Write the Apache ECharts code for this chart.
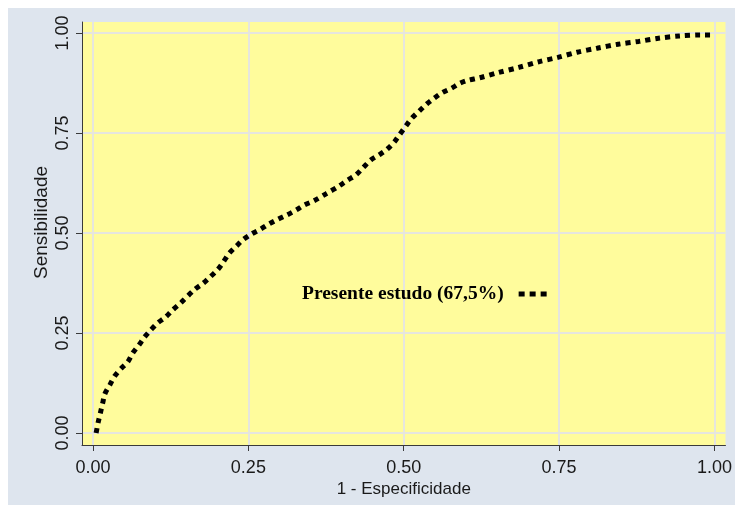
<!DOCTYPE html>
<html>
<head>
<meta charset="utf-8">
<script src="https://cdn.jsdelivr.net/npm/echarts@6/dist/echarts.min.js"></script>
<style>
html,body{margin:0;padding:0;background:#ffffff;width:735px;height:508px;overflow:hidden;}
#c{position:absolute;left:8px;top:8px;width:727px;height:497px;background:#dee5ee;}
</style>
</head>
<body>
<div id="c"></div>
<script>
// Data
const seriesName = 'Presente estudo (67,5%)';
const fpr = [0.005,0.0085,0.012,0.0156,0.019,0.027,0.035,0.046,0.056,0.064,0.074,0.083,0.093,0.104,0.117,0.128,0.141,0.1637,0.177,0.189,0.201,0.21,0.219,0.231,0.241,0.255,0.269,0.283,0.297,0.312,0.327,0.34,0.355,0.375,0.396,0.41,0.423,0.435,0.447,0.46,0.473,0.485,0.494,0.5035,0.513,0.525,0.537,0.549,0.562,0.577,0.59,0.602,0.622,0.652,0.685,0.717,0.748,0.779,0.811,0.845,0.878,0.91,0.943,0.978,0.995];
const sens = [0.0,0.028,0.051,0.075,0.0975,0.12,0.1425,0.1625,0.178,0.2,0.22,0.24,0.2575,0.275,0.29,0.3075,0.325,0.359,0.374,0.391,0.409,0.428,0.449,0.4675,0.4825,0.4975,0.509,0.5225,0.534,0.545,0.5575,0.57,0.58,0.598,0.6175,0.6325,0.645,0.664,0.6825,0.695,0.709,0.728,0.7475,0.7675,0.787,0.805,0.8225,0.837,0.851,0.862,0.874,0.881,0.888,0.901,0.914,0.928,0.939,0.952,0.962,0.972,0.979,0.987,0.9925,0.995,0.995];
const tickVals = [0, 0.25, 0.5, 0.75, 1];
const tickLabels = ['0.00', '0.25', '0.50', '0.75', '1.00'];
const xTitle = '1 - Especificidade';
const yTitle = 'Sensibilidade';

const points = fpr.map((x, i) => [x, sens[i]]);
const fmt = v => { const i = tickVals.findIndex(t => Math.abs(t - v) < 1e-9); return i >= 0 ? tickLabels[i] : ''; };
const axisLineStyle = { color: '#3a3a3a', width: 1 };
const gridLineStyle = { color: '#e6e6de', width: 2 };
const labelFont = { fontFamily: 'Liberation Sans, Arial, sans-serif', fontSize: 18, color: '#1a1a1a' };
const nameFont = { fontFamily: 'Liberation Sans, Arial, sans-serif', fontSize: 17, color: '#1a1a1a' };

const chart = echarts.init(document.getElementById('c'), null, { renderer: 'canvas' });
chart.setOption({
  animation: false,
  backgroundColor: 'transparent',
  grid: { left: 74, top: 14, right: 8, bottom: 60, show: true, backgroundColor: '#fffc9c', borderWidth: 0, containLabel: false },
  legend: {
    show: true, left: 294, top: 276, align: 'right', orient: 'horizontal',
    itemWidth: 28, itemHeight: 5, padding: 0,
    textStyle: { fontFamily: 'Liberation Serif, Times New Roman, serif', fontWeight: 'bold', fontSize: 19.5, color: '#000', padding: [0, 10, 0, 0] },
    data: [{ name: seriesName, icon: 'path://M0,0h6v5h-6z M11,0h6v5h-6z M22,0h6v5h-6z' }]
  },
  xAxis: {
    type: 'value', min: -0.0177, max: 1.0177,
    name: xTitle, nameLocation: 'middle', nameGap: 36, nameMoveOverlap: false,
    nameTextStyle: nameFont,
    axisLine: { show: true, onZero: false, lineStyle: axisLineStyle },
    axisTick: { show: true, length: 6, customValues: tickVals, lineStyle: axisLineStyle },
    axisLabel: { show: true, customValues: tickVals, margin: 14, formatter: fmt, ...labelFont },
    splitLine: { show: true, lineStyle: gridLineStyle }
  },
  yAxis: {
    type: 'value', min: -0.03, max: 1.0275,
    name: yTitle, nameLocation: 'middle', nameGap: 31, nameRotate: 90, nameMoveOverlap: false,
    nameTextStyle: { ...nameFont, fontSize: 19, padding: [0, 0, 0, 22] },
    axisLine: { show: true, onZero: false, lineStyle: axisLineStyle },
    axisTick: { show: true, length: 6, customValues: tickVals, lineStyle: axisLineStyle },
    axisLabel: { show: true, customValues: tickVals, rotate: 90, margin: 10, formatter: fmt, ...labelFont },
    splitLine: { show: true, lineStyle: gridLineStyle }
  },
  series: [{
    name: seriesName, type: 'line', data: points, showSymbol: false, symbol: 'none', smooth: 0.3,
    lineStyle: { color: '#000', width: 5, type: [5, 5], cap: 'butt' },
    itemStyle: { color: '#000' }
  }]
});
</script>
</body>
</html>
